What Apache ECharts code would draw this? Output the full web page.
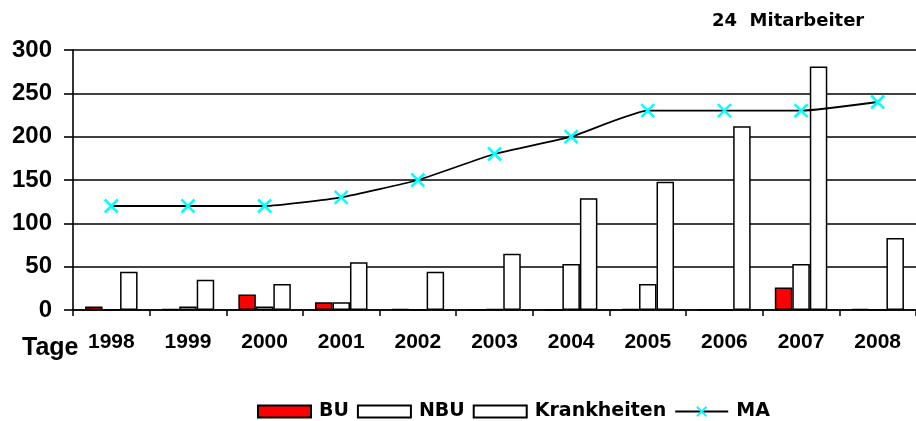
<!DOCTYPE html>
<html>
<head>
<meta charset="utf-8">
<script src="https://cdn.jsdelivr.net/npm/echarts@6/dist/echarts.min.js"></script>
<style>
html,body{margin:0;padding:0;background:#fff;}
#c{width:916px;height:421px;}
</style>
</head>
<body>
<div id="c"></div>
<script>
const years = ['1998','1999','2000','2001','2002','2003','2004','2005','2006','2007','2008'];
const buValues = [4, 1, 18, 9, 1, 0, 0, 1, 0, 26, 1];
const nbuValues = [0, 4, 4, 9, 0, 1, 53, 30, 0, 53, 0];
const krankValues = [44, 35, 30, 55, 44, 65, 129, 148, 212, 281, 83];
const maValues = [120, 120, 120, 130, 150, 180, 200, 230, 230, 230, 240];
const yTicks = [0, 50, 100, 150, 200, 250, 300];
const seriesNames = ['BU', 'NBU', 'Krankheiten', 'MA'];
const titleText = '24  Mitarbeiter';
const yUnitText = 'Tage';

const chart = echarts.init(document.getElementById('c'), null, {renderer: 'canvas'});
const arial = 'Liberation Sans, Arial, sans-serif';
const wide = 'DejaVu Sans, sans-serif';
const barBase = {type: 'bar', barWidth: 17.5, barGap: '0%', animation: false};

chart.setOption({
  animation: false,
  backgroundColor: '#ffffff',
  grid: {left: 73, right: -9, top: 50, bottom: 111, containLabel: false},
  legend: {
    data: [
      {name: seriesNames[0], icon: 'rect'},
      {name: seriesNames[1], icon: 'rect'},
      {name: seriesNames[2], icon: 'rect'},
      {name: seriesNames[3]}
    ],
    left: 252, top: 397,
    itemWidth: 53, itemHeight: 12, itemGap: 8,
    textStyle: {fontFamily: wide, fontWeight: 'bold', fontSize: 19, color: '#000', padding: [0, 0, 0, 3]}
  },
  graphic: [
    {type: 'text', left: 712, top: 12, style: {text: titleText, font: 'bold 18px ' + wide, fill: '#000'}},
    {type: 'text', x: 22, y: 348, style: {text: yUnitText, font: 'bold 25px ' + arial, fill: '#000', verticalAlign: 'middle'}}
  ],
  xAxis: {
    type: 'category',
    data: years,
    boundaryGap: true,
    axisLine: {lineStyle: {color: '#000', width: 1.6}},
    axisTick: {show: true, length: 6, lineStyle: {color: '#000', width: 1.5}},
    axisLabel: {interval: 0, margin: 22, fontFamily: arial, fontWeight: 'bold', fontSize: 21, color: '#000'}
  },
  yAxis: {
    type: 'value',
    min: yTicks[0], max: yTicks[yTicks.length - 1], interval: yTicks[1] - yTicks[0],
    axisLine: {show: true, lineStyle: {color: '#000', width: 1.6}},
    axisTick: {show: true, length: 9, lineStyle: {color: '#000', width: 1.6}},
    splitLine: {show: true, lineStyle: {color: '#000', width: 1.6}},
    axisLabel: {margin: 21, fontFamily: arial, fontWeight: 'bold', fontSize: 24, color: '#000'}
  },
  series: [
    Object.assign({}, barBase, {name: seriesNames[0], data: buValues,
      itemStyle: {color: '#ff0000', borderColor: '#000', borderWidth: 1.5}}),
    Object.assign({}, barBase, {name: seriesNames[1], data: nbuValues,
      itemStyle: {color: '#ffffff', borderColor: '#000', borderWidth: 1.5}}),
    Object.assign({}, barBase, {name: seriesNames[2], data: krankValues,
      itemStyle: {color: '#ffffff', borderColor: '#000', borderWidth: 1.5}}),
    {
      type: 'line', name: seriesNames[3], data: maValues, smooth: 0.15, z: 5,
      animation: false,
      lineStyle: {color: '#000', width: 1.8},
      symbol: 'path://M0,0L10,10M10,0L0,10', symbolSize: 13,
      itemStyle: {color: '#00ffff', borderColor: '#00ffff', borderWidth: 2.5}
    }
  ]
});
</script>
</body>
</html>
